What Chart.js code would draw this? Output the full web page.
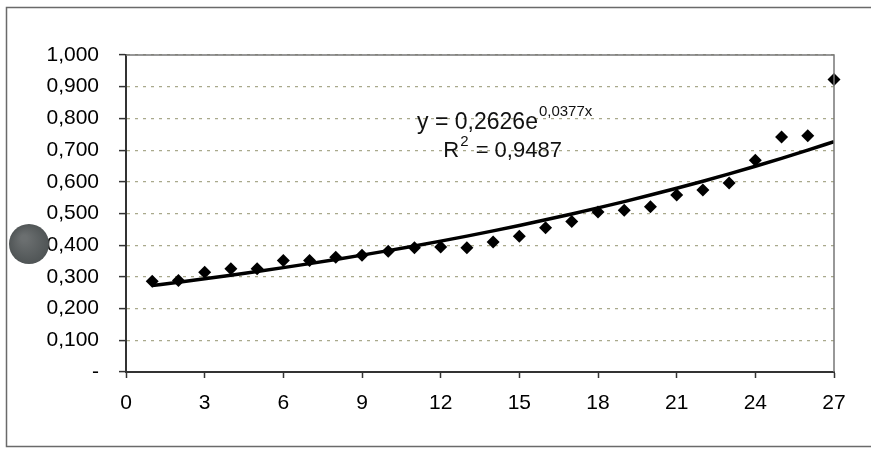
<!DOCTYPE html>
<html>
<head>
<meta charset="utf-8">
<script src="https://cdn.jsdelivr.net/npm/chart.js@4/dist/chart.umd.min.js"></script>
<style>
  html, body { margin: 0; padding: 0; background: #fff; }
  #wrap { width: 871px; height: 449px; }
</style>
</head>
<body>
<div id="wrap"><canvas id="scatterChart" width="871" height="449"></canvas></div>
<script>
// values
const xValues = [1, 2, 3, 4, 5, 6, 7, 8, 9, 10, 11, 12, 13, 14, 15, 16, 17, 18, 19, 20, 21, 22, 23, 24, 25, 26, 27];
const yValues = [0.286, 0.289, 0.315, 0.326, 0.326, 0.352, 0.352, 0.362, 0.368, 0.381, 0.392, 0.394, 0.392, 0.410,
  0.428, 0.455, 0.475, 0.505, 0.510, 0.521, 0.558, 0.574, 0.596, 0.668, 0.741, 0.745, 0.923];
const xTickLabels = ['0', '3', '6', '9', '12', '15', '18', '21', '24', '27'];
const yTickLabels = ['-', '0,100', '0,200', '0,300', '0,400', '0,500', '0,600', '0,700', '0,800', '0,900', '1,000'];

// exponential trendline as printed on the chart
const trendA = 0.2626;
const trendB = 0.0377;
const trendText = 'y = 0,2626e';
const trendExpText = '0,0377x';
const r2Text = ' = 0,9487';

const FONT = "'Liberation Sans', Arial, sans-serif";

const points = xValues.map((x, i) => ({ x: x, y: yValues[i] }));
const trendPoints = xValues.map(x => ({ x: x, y: trendA * Math.exp(trendB * x) }));

const framePlugin = {
  id: 'frame',
  beforeDraw(chart) {
    const ctx = chart.ctx;
    ctx.save();
    ctx.fillStyle = '#fff';
    ctx.fillRect(0, 0, chart.width, chart.height);
    ctx.restore();
  },
  afterDraw(chart) {
    const { ctx, chartArea: a, scales } = chart;
    ctx.save();
    // outer border of the chart object
    ctx.strokeStyle = '#6a6a6a';
    ctx.lineWidth = 1.5;
    ctx.strokeRect(6.5, 7.5, chart.width + 10, 439);
    // top and right edges of the plot area
    ctx.strokeStyle = '#777';
    ctx.lineWidth = 1.5;
    ctx.beginPath();
    ctx.moveTo(a.left, a.top);
    ctx.lineTo(a.right, a.top);
    ctx.lineTo(a.right, a.bottom);
    ctx.stroke();

    // trendline equation
    ctx.fillStyle = '#111';
    ctx.textBaseline = 'alphabetic';
    ctx.font = '23px ' + FONT;
    const x1 = scales.x.getPixelForValue(11.1);
    const y1 = scales.y.getPixelForValue(0.765);
    ctx.fillText(trendText, x1, y1);
    const w1 = ctx.measureText(trendText).width;
    ctx.font = '15px ' + FONT;
    ctx.fillText(trendExpText, x1 + w1 + 1, y1 - 13);

    ctx.font = '22px ' + FONT;
    const x2 = scales.x.getPixelForValue(12.1);
    const y2 = scales.y.getPixelForValue(0.677);
    ctx.fillText('R', x2, y2);
    const wr = ctx.measureText('R').width;
    ctx.font = '15px ' + FONT;
    ctx.fillText('2', x2 + wr + 1, y2 - 11);
    const w2 = ctx.measureText('2').width;
    ctx.font = '22px ' + FONT;
    ctx.fillText(r2Text, x2 + wr + w2 + 2, y2);

    // grey blot on the scan
    const g = ctx.createRadialGradient(24, 238, 3, 29, 244, 21);
    g.addColorStop(0, '#6b6f70');
    g.addColorStop(1, '#4e5354');
    ctx.fillStyle = g;
    ctx.beginPath();
    ctx.arc(29, 244, 20, 0, Math.PI * 2);
    ctx.fill();
    ctx.restore();
  }
};

new Chart(document.getElementById('scatterChart'), {
  type: 'scatter',
  data: {
    datasets: [
      {
        label: 'Data',
        data: points,
        pointStyle: 'rectRot',
        pointRadius: 6.5,
        pointHoverRadius: 6.5,
        backgroundColor: '#000',
        borderColor: '#000',
        borderWidth: 0,
        clip: false,
        order: 1
      },
      {
        label: 'Expon.',
        type: 'line',
        data: trendPoints,
        borderColor: '#000',
        borderWidth: 3.5,
        pointRadius: 0,
        cubicInterpolationMode: 'monotone',
        fill: false,
        order: 0
      }
    ]
  },
  options: {
    responsive: false,
    devicePixelRatio: 1,
    animation: false,
    layout: { padding: { left: 0, top: 55, right: 37, bottom: 0 } },
    plugins: {
      legend: { display: false },
      tooltip: { enabled: false }
    },
    scales: {
      x: {
        type: 'linear',
        min: 0,
        max: 27,
        afterFit: scale => { scale.height = 77; },
        ticks: {
          stepSize: 3,
          padding: 13,
          color: '#000',
          font: { family: FONT, size: 21 },
          maxRotation: 0,
          callback: value => xTickLabels[Math.round(value / 3)]
        },
        grid: {
          drawOnChartArea: false,
          drawTicks: true,
          tickLength: 6,
          tickColor: '#333',
          tickWidth: 1.5
        },
        border: { display: true, color: '#333', width: 2 }
      },
      y: {
        min: 0,
        max: 1,
        afterFit: scale => { scale.width = 126; },
        ticks: {
          stepSize: 0.1,
          padding: 20,
          color: '#000',
          font: { family: FONT, size: 21 },
          callback: value => yTickLabels[Math.round(value * 10)]
        },
        grid: {
          color: '#a9a98c',
          lineWidth: 1.2,
          drawTicks: true,
          tickLength: 7,
          tickColor: '#333',
          tickWidth: 1.5,
          tickBorderDash: []
        },
        border: { display: true, color: '#333', width: 2, dash: [3, 5] }
      }
    }
  },
  plugins: [framePlugin]
});
</script>
</body>
</html>
